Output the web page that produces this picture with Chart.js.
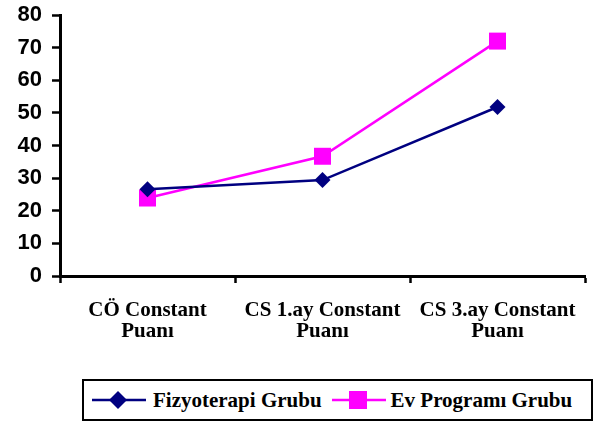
<!DOCTYPE html>
<html>
<head>
<meta charset="utf-8">
<script src="https://cdn.jsdelivr.net/npm/chart.js@4.4.0/dist/chart.umd.min.js"></script>
<style>
  body { margin: 0; background: #fff; }
  #wrap { position: relative; width: 609px; height: 423px; }
  #chart-box { position: absolute; left: 0; top: 0; width: 609px; height: 378px; }
  #legend {
    position: absolute; left: 82px; top: 379px; width: 507px; height: 38px;
    border: 2px solid #000; box-sizing: content-box;
    display: flex; align-items: center;
    font: bold 21px "Liberation Serif", "Times New Roman", serif; color: #000;
  }
  .item { display: flex; align-items: center; }
  .item svg { display: block; }
</style>
</head>
<body>
<div id="wrap">
  <div id="chart-box"><canvas id="constant-chart" width="609" height="378"></canvas></div>
  <div id="legend"></div>
</div>
<script>
// Data
const categories = [['CÖ Constant', 'Puanı'], ['CS 1.ay Constant', 'Puanı'], ['CS 3.ay Constant', 'Puanı']];
const fizyoValues = [26.6, 29.4, 51.8];
const evValues = [23.9, 36.7, 72.0];
const yTicks = [0, 10, 20, 30, 40, 50, 60, 70, 80];

const fizyoColor = '#000080';
const evColor = '#FF00FF';

const ctx = document.getElementById('constant-chart').getContext('2d');
const constantChart = new Chart(ctx, {
  type: 'line',
  data: {
    labels: categories,
    datasets: [
      {
        label: 'Fizyoterapi Grubu',
        data: fizyoValues,
        borderColor: fizyoColor,
        backgroundColor: fizyoColor,
        borderWidth: 2.5,
        pointStyle: 'rectRot',
        pointRadius: 8,
        pointBorderWidth: 0,
        tension: 0
      },
      {
        label: 'Ev Programı Grubu',
        data: evValues,
        borderColor: evColor,
        backgroundColor: evColor,
        borderWidth: 2.5,
        pointStyle: 'rect',
        pointRadius: 12,
        pointBorderWidth: 0,
        tension: 0
      }
    ]
  },
  options: {
    responsive: false,
    animation: false,
    layout: { padding: { top: 15, right: 24, left: 0, bottom: 0 } },
    plugins: {
      legend: { display: false },
      tooltip: { enabled: false }
    },
    scales: {
      x: {
        offset: true,
        afterFit: (scale) => { scale.height = 102; scale.paddingLeft = 0; scale.paddingRight = 0; },
        grid: {
          offset: true,
          drawOnChartArea: false,
          drawTicks: true,
          tickLength: 7,
          tickWidth: 2.5,
          tickColor: '#000'
        },
        border: { display: true, color: '#000', width: 3 },
        ticks: {
          color: '#000',
          padding: 17,
          maxRotation: 0,
          autoSkip: false,
          font: { family: '"Liberation Serif", "Times New Roman", serif', size: 21, weight: 'bold', lineHeight: 1.0 }
        }
      },
      y: {
        min: yTicks[0],
        max: yTicks[yTicks.length - 1],
        afterFit: (scale) => { scale.width = 60; scale.paddingTop = 0; scale.paddingBottom = 0; },
        afterBuildTicks: (scale) => { scale.ticks = yTicks.map(v => ({ value: v })); },
        grid: {
          drawOnChartArea: false,
          drawTicks: true,
          tickLength: 8,
          tickWidth: 2.5,
          tickColor: '#000'
        },
        border: { display: true, color: '#000', width: 3 },
        ticks: {
          color: '#000',
          padding: 10,
          font: { family: '"Liberation Sans", Arial, sans-serif', size: 22, weight: 'bold' }
        }
      }
    }
  }
});

// Legend (line + marker, like the original)
function markerSvg(color, shape) {
  let mark;
  if (shape === 'diamond') {
    mark = `<polygon points="26,1 35,10 26,19 17,10" fill="${color}"/>`;
  } else {
    mark = `<rect x="17" y="1" width="18" height="18" fill="${color}"/>`;
  }
  return `<svg width="54" height="20"><line x1="0" y1="10" x2="54" y2="10" stroke="${color}" stroke-width="2.5"/>${mark}</svg>`;
}
const legendEl = document.getElementById('legend');
legendEl.innerHTML =
  `<div class="item" style="margin-left:8px">${markerSvg(fizyoColor, 'diamond')}<span style="margin-left:7px">Fizyoterapi Grubu</span></div>` +
  `<div class="item" style="margin-left:10px">${markerSvg(evColor, 'square')}<span style="margin-left:5px">Ev Programı Grubu</span></div>`;
</script>
</body>
</html>
